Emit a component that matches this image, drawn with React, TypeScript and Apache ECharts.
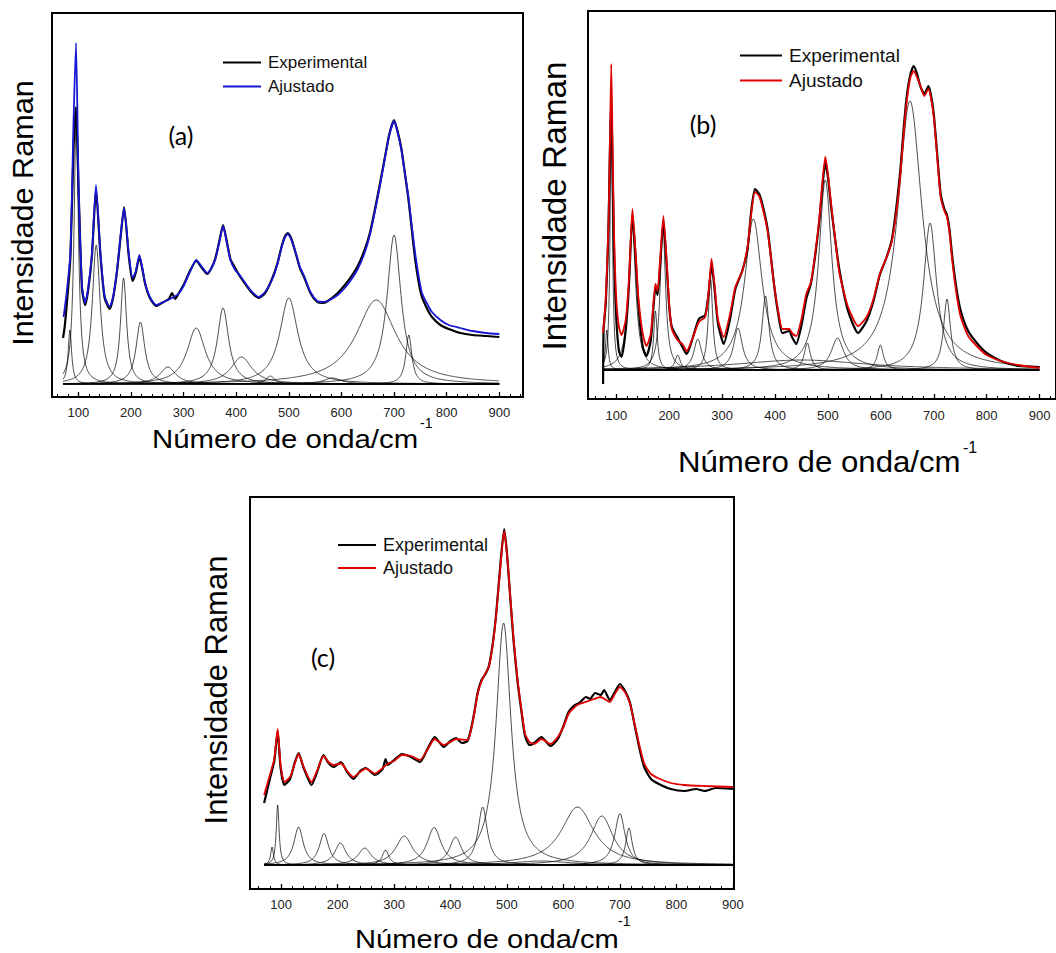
import React, { useEffect, useRef } from 'react';
import * as echarts from 'echarts';

const SANS = '"Liberation Sans", Arial, Helvetica, sans-serif';

// ---------- axis ticks ----------
const tickLabels = [100, 200, 300, 400, 500, 600, 700, 800, 900];
const minorTicks = [60, 80, 100, 120, 140, 160, 180, 200, 220, 240, 260, 280, 300, 320, 340, 360, 380, 400, 420, 440, 460, 480, 500, 520, 540, 560, 580, 600, 620, 640, 660, 680, 700, 720, 740, 760, 780, 800, 820, 840, 860, 880, 900, 920, 940];

// ---------- panel (a) ----------
const fitA: [number, number][] = [[72,80],[78,105],[85,144],[91,277],[95.6,354],[100.6,210],[107,111],[113,94],[119,110],[126,144],[133.6,212],[142,144],[150,101],[159.6,90],[166,100],[173.6,127],[180,160],[187,189],[195.7,144],[203,119],[209,125],[216,142],[222,128],[227,114],[236,100],[248,92],[262,95],[278,99],[290,103],[300,111],[312,125],[324,137],[335,130],[345,124],[352,128],[360,137],[368,155],[375,171],[382,155],[389,137],[398,127],[408,121],[427,107],[443,100],[455,105],[468,117],[478,132],[487,151],[493,160],[498,163],[505,157],[514,143],[521,130],[529,121],[541,105],[554,96],[564,95],[574,96],[593,102],[608,110],[618,117],[631,128],[644,144],[654,162],[663,184],[672,208],[682,237],[691,262],[700,276],[707,264],[714,247],[721,222],[727,201],[734,170],[740,144],[747,120],[753,104],[763,93],[772,85],[788,77],[804,72],[826,69],[849,66],[875,64],[900,63]];
const expA: [number, number][] = [[71,59],[74,70],[78,92],[85,140],[91,250],[95.6,290],[100.6,205],[107,108],[113,92],[119,108],[126,142],[133.6,208],[142,142],[150,99],[159.6,88],[166,99],[173.6,126],[180,158],[187,190],[195.7,142],[203,116],[209,124],[216,140],[222,127],[227,113],[236,99],[248,91],[262,95],[272,98],[278,104],[284,98],[290,103],[300,112],[312,126],[324,136],[335,129],[345,123],[352,128],[360,138],[368,156],[375,172],[382,156],[389,138],[398,129],[408,120],[427,106],[443,99],[455,104],[468,118],[478,133],[487,152],[493,161],[498,164],[505,158],[514,142],[521,129],[529,120],[541,104],[554,95],[564,94],[574,96],[593,104],[608,113],[618,120],[631,131],[644,147],[654,164],[663,186],[672,210],[682,238],[691,263],[700,277],[707,265],[714,248],[721,222],[727,199],[734,166],[740,138],[747,114],[753,100],[763,88],[772,80],[788,72],[804,68],[826,64],[849,62],[875,61],[900,60]];
const baseA = 13;
const centersA = [84, 96, 134, 186, 218, 270, 324, 375, 410, 465, 500, 583, 666, 700, 728];
const heightsA = [54, 265, 139, 106, 62, 17, 56, 76, 27, 8, 86, 6, 84, 149, 49];
const widthsA = [4, 5, 9, 7, 10, 18, 21, 13, 24, 10, 21, 20, 46, 16, 7];

// ---------- panel (b) ----------
const fitB: [number, number][] = [[75,66],[80,100],[85,170],[88,260],[90.5,335],[93,250],[96,160],[100,100],[105,72],[110,64],[118,80],[124,120],[130.5,190],[136,150],[142,100],[150,65],[157,53],[165,65],[170,95],[174,115],[178,108],[183,140],[189,183],[195,140],[200,95],[205,70],[217,58],[225,55],[233,48],[245,62],[256,77],[268,82],[275,110],[280,140],[286,112],[292,80],[303,62],[315,85],[325,112],[338,128],[348,152],[355,185],[362,207],[370,203],[376,192],[386,168],[398,115],[406,88],[414,70],[427,70],[432,66],[440,63],[450,80],[459,105],[468,117],[477,150],[484,182],[490,220],[495,242],[500,225],[506,195],[514,158],[522,125],[538,92],[557,73],[573,82],[586,100],[598,125],[611,142],[621,158],[630,190],[637,225],[643,265],[649,298],[656,322],[662,328],[668,322],[675,313],[682,303],[690,310],[695,300],[700,282],[706,245],[713,202],[720,188],[725,182],[730,165],[735,138],[743,105],[751,82],[765,63],[783,52],[800,44],[827,38],[860,34],[900,31]];
const expB: [number, number][] = [[75,15],[76,70],[80,95],[85,165],[88,250],[90.5,302],[93,230],[96,140],[100,80],[105,48],[110,42],[118,70],[124,115],[130.5,185],[136,145],[142,92],[150,52],[157,43],[165,58],[170,90],[174,112],[178,104],[183,135],[189,178],[195,135],[200,92],[205,72],[217,60],[225,52],[233,45],[245,62],[256,80],[268,84],[275,108],[280,135],[286,108],[292,76],[303,55],[315,80],[325,110],[338,128],[348,150],[355,188],[362,210],[370,205],[376,195],[386,170],[398,115],[406,85],[414,66],[427,68],[432,62],[440,55],[450,74],[459,100],[468,116],[477,148],[484,180],[490,215],[495,236],[500,222],[506,192],[514,158],[522,128],[538,88],[557,66],[573,78],[586,98],[598,124],[611,142],[621,160],[630,195],[637,230],[643,270],[649,303],[656,325],[662,333],[668,326],[675,312],[682,305],[690,313],[695,303],[700,285],[706,248],[713,205],[720,190],[725,184],[730,168],[735,142],[743,110],[751,88],[765,68],[783,55],[800,46],[827,38],[860,33],[900,32]];
const baseB = 29;
const centersB = [82, 90.5, 130, 174, 188, 216, 254, 278, 330, 359, 382, 461, 495, 518, 599, 655, 693, 725, 450];
const heightsB = [40, 265, 146, 59, 146, 15, 31, 92, 42, 151, 74, 27, 190, 32, 25, 269, 147, 71, 10];
const widthsB = [3, 2.5, 8, 4, 6, 6, 9, 5, 10, 20, 8, 7, 15, 14, 7, 28, 15, 8, 150];

// ---------- panel (c) ----------
const fitC: [number, number][] = [[70,94],[81,115.5],[88,130],[94,160],[99,125],[106,107],[116,112],[124,125],[131,135],[140,122],[154,107],[165,120],[175,133],[184,127],[193,124],[206,125.5],[217,118],[228,112],[240,117],[250,120.5],[266,115.5],[280,121],[289,125.5],[300,128],[314,134],[330,133],[346,129],[360,140],[372,150],[388,144],[400,147],[410,150],[430,149],[436,158],[442,175],[448,195],[455,208],[462,216],[468,222],[475,245],[481,275],[488,320],[495,358],[500,335],[506,291],[512,248],[519,208],[526,178],[532,155],[540,147],[548,145],[561,150],[577,145],[590,152],[600,162],[609,175],[618,181],[628,185],[647,188.5],[666,192],[682,187],[691,195],[700,202],[710,196],[718,185],[726,165],[734,145],[743,125.5],[755,115],[769,110.5],[790,106],[814,104],[850,103],[900,102]];
const expC: [number, number][] = [[70,86],[81,112],[88,128],[94,158],[99,122],[106,104],[116,110],[124,126],[131,136],[140,121],[154,104],[165,119],[175,134],[184,126],[193,122],[206,127],[217,117],[228,110],[240,118],[250,121],[266,114],[280,120],[285,130],[289,124],[300,129],[314,135],[330,132],[346,127],[360,141],[372,152],[388,142],[400,148],[410,151],[420,146],[430,148],[436,159],[442,176],[448,196],[455,209],[462,215],[468,223],[475,246],[481,276],[488,322],[495,360],[500,336],[506,290],[512,246],[519,206],[526,176],[532,153],[540,144],[548,146],[561,152],[577,143],[590,150],[600,163],[609,177],[618,183],[628,186],[640,192],[647,190],[656,196],[666,194],[672,199],[682,189],[691,197],[700,205],[710,197],[718,186],[726,164],[734,142],[743,122],[755,110],[769,105],[790,100],[814,98],[835,100],[850,98],[870,101],[900,100]];
const baseC = 24;
const centersC = [84, 94, 131, 176, 205, 248, 285, 318, 371, 409, 457, 494, 625, 668, 700, 716, 560];
const heightsC = [18, 60, 38, 31.5, 22, 17, 15, 29, 37.5, 28, 58, 242, 58, 49, 51.5, 37, 4];
const widthsC = [3, 3, 10, 10, 12, 14, 7, 18, 15, 13, 10, 16, 35, 24, 11, 7, 60];

// Lorentzian component curve from a fitted peak's parameters (center, height, half-width)
function component(c: number, h: number, w: number, base: number, x0: number, x1: number) {
  const pts: [number, number][] = [];
  for (let x = x0; x <= x1; x += 1) {
    const t = (x - c) / w;
    pts.push([x, base + h / (1 + t * t)]);
  }
  return pts;
}

function componentSeries(centers: number[], heights: number[], widths: number[], base: number, x0: number, idx: number) {
  return centers.map((c, i) => ({
    type: 'line',
    name: 'comp' + idx + '_' + i,
    xAxisIndex: idx * 2,
    yAxisIndex: idx,
    data: component(c, heights[i], widths[i], base, x0, 900),
    symbol: 'none',
    silent: true,
    z: 1,
    lineStyle: { color: '#000', width: 0.7 },
  }));
}

function mainSeries(name: string, data: [number, number][], color: string, width: number, idx: number, z: number) {
  return {
    type: 'line',
    name,
    color,
    xAxisIndex: idx * 2,
    yAxisIndex: idx,
    data,
    symbol: 'none',
    smooth: 0.2,
    silent: true,
    z,
    lineStyle: { color, width },
  };
}

function xAxes(idx: number, min: number, max: number, margin: number) {
  return [
    {
      type: 'value', gridIndex: idx, min, max, position: 'bottom',
      axisLine: { show: true, onZero: false, lineStyle: { color: '#000', width: 2 } },
      axisTick: { show: true, inside: true, length: 5, customValues: tickLabels, lineStyle: { color: '#000', width: 1.3 } },
      axisLabel: { show: true, customValues: tickLabels, margin, fontSize: 13, color: '#222', fontFamily: SANS },
      splitLine: { show: false },
    },
    {
      type: 'value', gridIndex: idx, min, max, position: 'bottom',
      axisLine: { show: false },
      axisTick: { show: true, inside: true, length: 3, customValues: minorTicks.filter((v) => v > min && v < max), lineStyle: { color: '#000', width: 1 } },
      axisLabel: { show: false },
      splitLine: { show: false },
    },
  ];
}

function yAxis(idx: number, max: number) {
  return { type: 'value', gridIndex: idx, min: 0, max, show: false, splitLine: { show: false } };
}

function legend(suffix: string, left: number, top: number, w: number, size: number, gap: number) {
  return {
    data: ['Experimental ' + suffix, 'Ajustado ' + suffix],
    orient: 'vertical', left, top, padding: 0,
    itemWidth: w, itemHeight: 2, itemGap: gap, icon: 'rect', selectedMode: false,
    formatter: (n: string) => n.split(' ')[0],
    textStyle: { fontSize: size, lineHeight: size, fontFamily: SANS, color: '#111', padding: [0, 0, 0, 2] },
  };
}

function plainText(text: string, x: number, y: number, size: number, sx: number, align: string, family: string) {
  return {
    type: 'text', x, y, scaleX: sx, silent: true,
    style: {
      text, fontSize: size, fontFamily: family, fill: '#000', lineHeight: Math.round(size * 0.85),
      align, verticalAlign: 'middle', textAlign: align, textVerticalAlign: 'middle',
    },
  };
}

// x-axis title: main part left-aligned at its start, superscript placed above the cap height
function xName(x: number, y: number, size: number, sx: number, supX: number, supY: number, supSize: number) {
  return [
    plainText('Número de onda/cm', x, y, size, sx, 'left', SANS),
    plainText('-1', supX, supY, supSize, 1, 'left', SANS),
  ];
}

function yName(x: number, y: number, size: number, sx: number) {
  return {
    type: 'text', x, y, rotation: Math.PI / 2, scaleX: sx, silent: true,
    style: {
      text: 'Intensidade Raman', fontSize: size, fontFamily: SANS, fill: '#000',
      align: 'center', verticalAlign: 'middle', textAlign: 'center', textVerticalAlign: 'middle',
    },
  };
}

export default function App() {
  const ref = useRef<HTMLDivElement>(null);
  useEffect(() => {
    if (!ref.current) return;
    const chart = echarts.init(ref.current, undefined, { renderer: 'svg' });
    const blue = '#1616d4';
    const red = '#e00000';
    const option: any = {
      animation: false,
      backgroundColor: '#fff',
      grid: [
        { left: 52, top: 13, width: 471, height: 384, show: true, borderColor: '#000', borderWidth: 2, backgroundColor: 'transparent' },
        { left: 588, top: 11, width: 468, height: 388, show: true, borderColor: '#000', borderWidth: 2, backgroundColor: 'transparent' },
        { left: 250, top: 497, width: 484, height: 392, show: true, borderColor: '#000', borderWidth: 2, backgroundColor: 'transparent' },
      ],
      xAxis: [...xAxes(0, 50, 945, 9), ...xAxes(1, 46.5, 931, 10), ...xAxes(2, 45, 902, 9)],
      yAxis: [yAxis(0, 384), yAxis(1, 388), yAxis(2, 392)],
      legend: [
        legend('(a)', 223, 54, 38, 17, 7),
        legend('(b)', 740, 46, 42, 19, 6),
        legend('(c)', 338, 536, 38, 18, 5),
      ],
      graphic: [
        yName(23, 213, 30, 1.02),
        yName(555, 206, 33, 1.01),
        yName(216, 690, 31, 1.0),
        ...xName(152, 439, 26, 1.13, 420, 423, 14),
        ...xName(678, 461, 30, 1.04, 963, 447, 16),
        ...xName(355, 939, 26, 1.12, 618, 921, 14),
        plainText('(a)', 181, 135, 25, 1, 'center', 'Lato, "Open Sans", sans-serif'),
        plainText('(b)', 703, 124, 25, 1, 'center', 'Lato, "Open Sans", sans-serif'),
        plainText('(c)', 323, 657, 25, 1, 'center', 'Lato, "Open Sans", sans-serif'),
      ],
      series: [
        ...componentSeries(centersA, heightsA, widthsA, baseA, 71, 0),
        mainSeries('Experimental (a)', expA, '#000', 2.2, 0, 2),
        mainSeries('Ajustado (a)', fitA, blue, 1.8, 0, 3),
        ...componentSeries(centersB, heightsB, widthsB, baseB, 75, 1),
        mainSeries('Experimental (b)', expB, '#000', 2.2, 1, 2),
        mainSeries('Ajustado (b)', fitB, red, 1.8, 1, 3),
        ...componentSeries(centersC, heightsC, widthsC, baseC, 70, 2),
        mainSeries('Experimental (c)', expC, '#000', 2.2, 2, 2),
        mainSeries('Ajustado (c)', fitC, red, 1.8, 2, 3),
      ],
    };
    chart.setOption(option);
    return () => chart.dispose();
  }, []);
  return (
    <div
      ref={ref}
      style={{ position: 'fixed', left: 0, top: 0, width: 1056, height: 953, background: '#fff' }}
    />
  );
}
